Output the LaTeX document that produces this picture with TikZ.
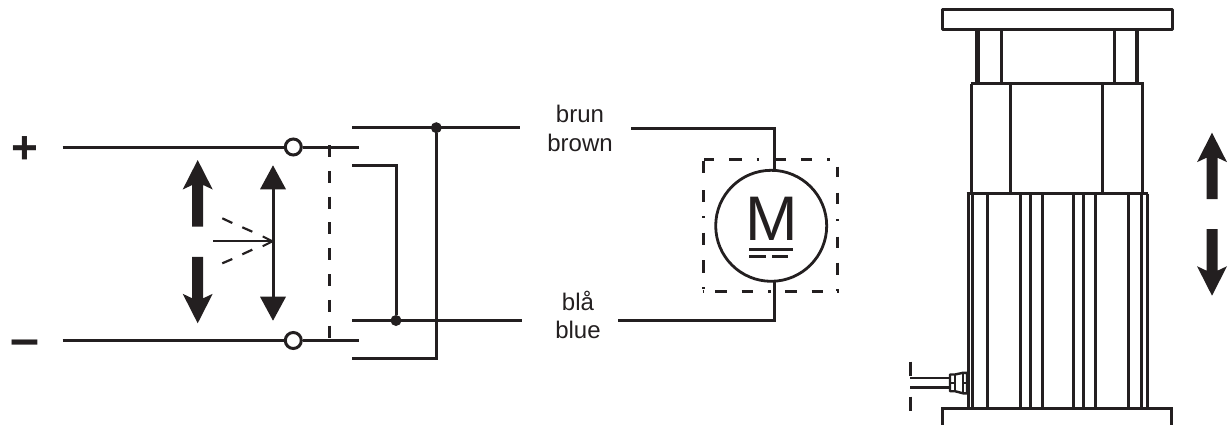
\documentclass[tikz,border=0pt]{standalone}
\usepackage{fontspec}
\setmainfont{Liberation Sans}
\definecolor{ink}{HTML}{231F20}
\newcommand{\fatarrow}[3]{% x, tip y, sign (+1 points up, -1 points down)
  \fill[ink] (#1,#2) -- (#1+15,#2+#3*29.5) -- (#1+5.5,#2+#3*25) -- (#1+5.5,#2+#3*66.5)
    -- (#1-5.5,#2+#3*66.5) -- (#1-5.5,#2+#3*25) -- (#1-15,#2+#3*29.5) -- cycle;}
\tikzset{
  wire/.style={draw=ink,line width=3pt,line cap=butt,line join=miter},
  thinwire/.style={draw=ink,line width=2pt},
  frame/.style={draw=ink,line width=3pt},
  heavy/.style={draw=ink,line width=4.4pt},
  terminal/.style={circle,draw=ink,fill=white,line width=3pt,minimum size=16pt,inner sep=0pt},
  junction/.style={circle,fill=ink,minimum size=11pt,inner sep=0pt},
  motor/.style={circle,draw=ink,line width=2.8pt,minimum size=111pt,inner sep=0pt},
  lab/.style={anchor=base,text=ink,inner sep=0pt,font=\fontsize{24}{24}\selectfont},
  dashseg/.style={draw=ink,line width=3pt},
}
\begin{document}
\begin{tikzpicture}[x=1pt,y=-1pt]
\useasboundingbox (0,0) rectangle (1228,425);
% polarity
\node[anchor=base,text=ink,inner sep=0pt,font=\fontsize{46}{46}\bfseries\selectfont] (plus) at (25,164) {+};
\node[anchor=base,text=ink,inner sep=0pt,font=\fontsize{52}{52}\bfseries\selectfont] (minus) at (24.5,356) {–};
% supply lines and terminals
\coordinate (tl) at (62.5,147);
\coordinate (tr) at (359,147);
\coordinate (bl) at (62.5,340.5);
\coordinate (br) at (359,340.5);
\node[terminal] (tt) at (293.3,147) {};
\node[terminal] (tb) at (293.3,340.5) {};
\draw[wire] (tl) -- (tt);
\draw[wire] (tt) -- (tr);
\draw[wire] (bl) -- (tb);
\draw[wire] (tb) -- (br);
% direction arrows
\fatarrow{197.7}{160}{1}
\fatarrow{197.7}{323.3}{-1}
\coordinate (dtop) at (273,185);
\coordinate (dbot) at (273,300);
\draw[wire] (dtop) -- (dbot);
\fill[ink] (273,165.3) -- (286,189.3) -- (260,189.3) -- cycle;
\fill[ink] (273,320.7) -- (286,296.7) -- (260,296.7) -- cycle;
\coordinate (pa) at (213,241.3);
\coordinate (pb) at (272.5,241.3);
\draw[thinwire] (pa) -- (pb);
\draw[thinwire] (262.7,236.4) -- (272.5,241.3) -- (262.7,246.2);
\foreach \a/\b/\c/\d in {222.3/218.3/232.3/223, 242.3/227.3/252.3/231.7, 222.3/263.3/232.3/259, 242.3/254.3/252.3/249.7}
  \draw[draw=ink,line width=2.2pt] (\a,\b) -- (\c,\d);
% mechanical link
\coordinate (la) at (329.7,145);
\coordinate (lb) at (329.7,338);
\draw[wire,dash pattern=on 12pt off 13.8pt] (la) -- (lb);
% contacts
\node[junction] (ja) at (436.3,127.7) {};
\node[junction] (jb) at (396,320.5) {};
\coordinate (c1) at (352,127.7);
\coordinate (c2) at (520,127.7);
\coordinate (c3) at (352,165.3);
\coordinate (c4) at (396,165.3);
\coordinate (c5) at (352,320.5);
\coordinate (c6) at (522,320.5);
\coordinate (c7) at (436.3,358.8);
\coordinate (c8) at (352,358.8);
\draw[wire] (c1) -- (c2);
\draw[wire] (c3) -- (c4) -- (jb);
\draw[wire] (c5) -- (c6);
\draw[wire] (ja) -- (c7) -- (c8);
% motor
\node[motor] (m) at (771.2,225.8) {};
\node[anchor=base,text=ink,inner sep=0pt,font=\fontsize{63}{63}\selectfont] (mlab) at (771.5,240) {M};
\draw[draw=ink,line width=3pt] (749.3,249.3) -- (792.7,249.3);
\draw[draw=ink,line width=3pt] (749.3,256.7) -- (765.5,256.7) (772.3,256.7) -- (787.7,256.7);
\coordinate (w1) at (631,128.3);
\coordinate (w2) at (774,128.3);
\coordinate (w3) at (774,170.2);
\coordinate (w4) at (618.3,320);
\coordinate (w5) at (774,320);
\coordinate (w6) at (774,281.5);
\draw[wire] (w1) -- (w2) -- (w3);
\draw[wire] (w4) -- (w5) -- (w6);
% dash-dot enclosure of the motor
\foreach \a/\b in {704.3/714.3, 729.3/741.7, 756.7/758.7, 775/785.7, 801/811.7, 827.3/830}
  \draw[dashseg] (\a,159) -- (\b,159);
\foreach \a/\b in {702.7/704.3, 715/726.7, 741.7/753.3, 768.3/770.7, 785/796.7, 811.7/823.3, 836.7/839}
  \draw[dashseg] (\a,291.7) -- (\b,291.7);
\foreach \a/\b in {161/173.3, 190/201.7, 216/218, 232.7/245, 260/272.7, 287/289}
  \draw[dashseg] (703.3,\a) -- (703.3,\b);
\foreach \a/\b in {166.7/177.3, 192.7/204, 219/221, 236.7/248.3, 262.7/275, 289/291}
  \draw[dashseg] (837.7,\a) -- (837.7,\b);
% labels
\node[lab] (t1) at (580,122) {brun};
\node[lab] (t2) at (580,151) {brown};
\node[lab] (t3) at (578,310) {blå};
\node[lab] (t4) at (578,338.5) {blue};
% column elevation
\draw[frame,line join=round] (942.7,10) rectangle (1172,30);
\draw[heavy] (977.3,30) -- (977.3,83.7);
\draw[frame] (1001.3,30) -- (1001.3,83.7);
\draw[frame] (1114,30) -- (1114,83.7);
\draw[heavy] (1137,30) -- (1137,83.7);
\draw[frame] (970.7,83.7) -- (1144,83.7);
\foreach \x in {971.7,1010.7,1102.7,1142}
  \draw[frame] (\x,83.7) -- (\x,193.7);
\draw[frame] (966.7,193.7) -- (1147.8,193.7);
\foreach \x in {968,972.7,987.7,1020.3,1030.3,1042.3,1073.7,1083.7,1095.3,1128.7,1141.7,1147}
  \draw[frame] (\x,193.7) -- (\x,408.3);
\draw[frame] (942.7,425) -- (942.7,408.3) -- (1171.5,408.3) -- (1171.5,425);
% cable and gland
\draw[draw=ink,line width=2.2pt] (910,378) -- (950,378);
\draw[draw=ink,line width=3pt] (910,387.3) -- (950,387.3);
\draw[draw=ink,line width=3pt] (910.3,361.7) -- (910.3,376);
\draw[draw=ink,line width=3pt] (910.3,396.7) -- (910.3,410.7);
\draw[draw=ink,line width=2.4pt,line join=round] (950,374.5) -- (955,374.5) -- (963,372.8) -- (967,372.8) -- (967,393.5) -- (963,393.3) -- (955,391.2) -- (950,391.2) -- cycle;
\draw[draw=ink,line width=2.4pt] (955,374.5) -- (955,391.2) (963,372.8) -- (963,393.3);
\draw[draw=ink,line width=2.4pt] (950,382.7) -- (955,382.7) (963,382.7) -- (967,382.7);
% travel arrows
\fatarrow{1212}{132.7}{1}
\fatarrow{1212}{295.7}{-1}
\end{tikzpicture}
\end{document}
